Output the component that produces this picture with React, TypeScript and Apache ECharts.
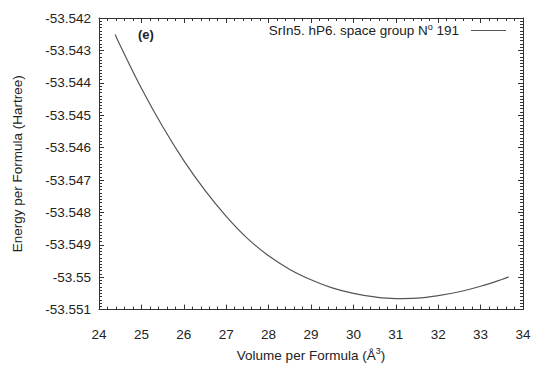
import React, { useEffect, useRef } from "react";
import * as echarts from "echarts";

const volumes = [24.38, 24.5, 25.0, 25.5, 26.0, 26.5, 27.0, 27.5, 28.0, 28.5, 29.0, 29.5, 30.0, 30.5, 31.0, 31.5, 32.0, 32.5, 33.0, 33.5, 33.66];
const energies = [-53.54251, -53.54285, -53.54417, -53.54535, -53.5464, -53.54732, -53.54812, -53.5488, -53.54934, -53.54976, -53.55008, -53.55033, -53.5505, -53.55061, -53.55066, -53.550645, -53.55057, -53.55045, -53.55028, -53.55007, -53.54999];
const xTicks = { min: 24, max: 34, interval: 1 };
const yTicks = { min: -53.551, max: -53.542, interval: 0.001 };
const seriesName = "SrIn5. hP6. space group N";

const FONT = "'Liberation Sans', Arial, sans-serif";
const TXT = "#222";
const AX = "#333";
const LINE = "#555";

export default function App() {
  const ref = useRef<HTMLDivElement>(null);
  useEffect(() => {
    if (!ref.current) return;
    const chart = echarts.init(ref.current, null, { renderer: "svg" });
    const axisLine = { show: true, lineStyle: { color: AX, width: 1 } };
    const tick = { show: true, inside: true, length: 5, lineStyle: { color: AX } };
    const minorX = { show: true, splitNumber: 5, length: 3, lineStyle: { color: AX } };
    const minorY = { show: true, splitNumber: 10, length: 3, lineStyle: { color: AX } };
    chart.setOption({
      animation: false,
      textStyle: { fontFamily: FONT },
      grid: { left: 99, right: 13, top: 18, bottom: 43, containLabel: false },
      legend: {
        show: true,
        right: 25,
        top: 17,
        align: "right",
        icon: "rect",
        itemWidth: 35,
        itemHeight: 1.2,
        itemGap: 10,
        data: [seriesName],
        formatter: () => "{a|" + seriesName + "}{s|o}{a| 191}",
        textStyle: {
          fontFamily: FONT,
          padding: [0, 7, 0, 0],
          rich: {
            a: { fontSize: 13.5, color: TXT, fontFamily: FONT },
            s: { fontSize: 9, color: TXT, verticalAlign: "top", padding: [0, 0, 8, 0], fontFamily: FONT },
          },
        },
      },
      xAxis: [
        {
          type: "value",
          min: xTicks.min,
          max: xTicks.max,
          interval: xTicks.interval,
          position: "bottom",
          axisLine,
          axisTick: tick,
          minorTick: minorX,
          splitLine: { show: false },
          axisLabel: { color: TXT, fontSize: 13.5, margin: 18, fontFamily: FONT },
          name: "{a|Volume per Formula (Å}{s|3}{a|)}",
          nameLocation: "middle",
          nameGap: 30,
          nameTextStyle: {
            rich: {
              a: { fontSize: 13.5, color: TXT, fontFamily: FONT },
              s: { fontSize: 9, color: TXT, verticalAlign: "top", padding: [0, 0, 8, 0], fontFamily: FONT },
            },
          },
        },
        {
          type: "value",
          min: xTicks.min,
          max: xTicks.max,
          interval: xTicks.interval,
          position: "top",
          axisLine,
          axisTick: tick,
          minorTick: minorX,
          splitLine: { show: false },
          axisLabel: { show: false },
        },
      ],
      yAxis: [
        {
          type: "value",
          min: yTicks.min,
          max: yTicks.max,
          interval: yTicks.interval,
          position: "left",
          axisLine,
          axisTick: tick,
          minorTick: minorY,
          splitLine: { show: false },
          axisLabel: {
            color: TXT,
            fontSize: 13.5,
            margin: 8,
            fontFamily: FONT,
            formatter: (v: number) => String(parseFloat(v.toFixed(3))),
          },
          name: "Energy per Formula (Hartree)",
          nameLocation: "middle",
          nameGap: 75,
          nameRotate: 90,
          nameTextStyle: { fontSize: 13.5, color: TXT, fontFamily: FONT },
        },
        {
          type: "value",
          min: yTicks.min,
          max: yTicks.max,
          interval: yTicks.interval,
          position: "right",
          axisLine,
          axisTick: tick,
          minorTick: minorY,
          splitLine: { show: false },
          axisLabel: { show: false },
        },
      ],
      graphic: [
        {
          type: "text",
          left: 138,
          top: 28,
          style: { text: "(e)", font: "bold 13px " + FONT, fill: TXT },
        },
      ],
      series: [
        {
          name: seriesName,
          type: "line",
          xAxisIndex: 0,
          yAxisIndex: 0,
          smooth: 0.4,
          symbol: "none",
          lineStyle: { color: LINE, width: 1.2 },
          itemStyle: { color: LINE },
          data: volumes.map((v, i) => [v, energies[i]]),
        },
      ],
    });
    return () => chart.dispose();
  }, []);
  return <div ref={ref} style={{ width: 536, height: 367, position: "absolute", left: 0, top: 0 }} />;
}
